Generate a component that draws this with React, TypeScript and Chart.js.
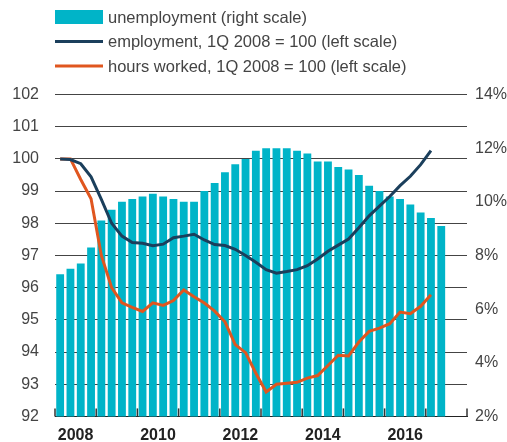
import React, { useEffect, useRef } from "react";
import { Chart, registerables } from "chart.js";

Chart.register(...registerables);

const years = [2008, 2009, 2010, 2011, 2012, 2013, 2014, 2015, 2016, 2017];
const quarters: string[] = years.flatMap((y) => [1, 2, 3, 4].map((q) => `${y}Q${q}`));

// unemployment rate, % (right scale), 2008Q1 - 2017Q2
const unemployment = [
  7.3, 7.5, 7.7, 8.3, 9.3, 9.7, 10.0, 10.1, 10.2, 10.3, 10.2, 10.1, 10.0, 10.0, 10.4, 10.7,
  11.1, 11.4, 11.6, 11.9, 12.0, 12.0, 12.0, 11.9, 11.8, 11.5, 11.5, 11.3, 11.2, 11.0, 10.6, 10.4,
  10.2, 10.1, 9.9, 9.6, 9.4, 9.1,
];

// employment, 1Q 2008 = 100 (left scale), 2008Q1 - 2017Q1
const employment = [
  100.0, 99.98, 99.85, 99.44, 98.74, 98.0, 97.6, 97.4, 97.38, 97.3, 97.35, 97.55, 97.6, 97.66,
  97.48, 97.34, 97.31, 97.19, 97.0, 96.79, 96.56, 96.45, 96.5, 96.56, 96.68, 96.89, 97.13, 97.32,
  97.51, 97.86, 98.23, 98.53, 98.83, 99.17, 99.46, 99.82, 100.26,
];

// hours worked, 1Q 2008 = 100 (left scale), 2008Q1 - 2017Q1
const hoursWorked = [
  100.0, 100.0, 99.36, 98.76, 97.0, 96.0, 95.53, 95.39, 95.26, 95.53, 95.45, 95.6, 95.93, 95.72,
  95.52, 95.27, 94.94, 94.23, 93.98, 93.34, 92.76, 93.0, 93.03, 93.06, 93.19, 93.27, 93.58, 93.9,
  93.88, 94.31, 94.64, 94.74, 94.88, 95.24, 95.19, 95.42, 95.78,
];

const legendLabels = [
  "unemployment (right scale)",
  "employment, 1Q 2008 = 100 (left scale)",
  "hours worked, 1Q 2008 = 100 (left scale)",
];

const TEAL = "#00b4c8";
const NAVY = "#1b3f5c";
const ORANGE = "#e0561f";
const FONT = "'Liberation Sans', Arial, Helvetica, sans-serif";

const legendPlugin = {
  id: "customLegend",
  afterDraw(chart: any) {
    const ctx = chart.ctx as CanvasRenderingContext2D;
    const left = chart.chartArea.left;
    const rowY = [17, 41.5, 66];
    ctx.save();
    ctx.fillStyle = TEAL;
    ctx.fillRect(left, rowY[0] - 7, 48, 14);
    ctx.lineWidth = 3;
    ctx.strokeStyle = NAVY;
    ctx.beginPath();
    ctx.moveTo(left, rowY[1]);
    ctx.lineTo(left + 48, rowY[1]);
    ctx.stroke();
    ctx.strokeStyle = ORANGE;
    ctx.beginPath();
    ctx.moveTo(left, rowY[2]);
    ctx.lineTo(left + 48, rowY[2]);
    ctx.stroke();
    ctx.fillStyle = "#444";
    ctx.font = `16.5px ${FONT}`;
    ctx.textBaseline = "middle";
    ctx.textAlign = "left";
    legendLabels.forEach((t, i) => ctx.fillText(t, left + 53, rowY[i] + 1));
    ctx.restore();
  },
};

const yearTickPlugin = {
  id: "yearTicks",
  afterDatasetsDraw(chart: any) {
    const ctx = chart.ctx as CanvasRenderingContext2D;
    const xs = chart.scales.x;
    const bottom = chart.chartArea.bottom;
    ctx.save();
    ctx.strokeStyle = "#333";
    ctx.lineWidth = 1.5;
    for (let k = 0; k <= quarters.length; k += 4) {
      const x = xs.getPixelForValue(k - 0.5);
      ctx.beginPath();
      ctx.moveTo(x, bottom);
      ctx.lineTo(x, bottom - 8);
      ctx.stroke();
    }
    ctx.restore();
  },
};

export default function App() {
  const canvasRef = useRef<HTMLCanvasElement | null>(null);

  useEffect(() => {
    if (!canvasRef.current) return;
    const chart = new Chart(canvasRef.current, {
      type: "bar",
      data: {
        labels: quarters,
        datasets: [
          {
            type: "line",
            label: legendLabels[1],
            data: employment,
            yAxisID: "y",
            borderColor: NAVY,
            borderWidth: 3,
            pointRadius: 0,
            tension: 0,
            order: 0,
          } as any,
          {
            type: "line",
            label: legendLabels[2],
            data: hoursWorked,
            yAxisID: "y",
            borderColor: ORANGE,
            borderWidth: 3,
            pointRadius: 0,
            tension: 0,
            order: 1,
          } as any,
          {
            type: "bar",
            label: legendLabels[0],
            data: unemployment,
            yAxisID: "y1",
            backgroundColor: TEAL,
            barPercentage: 0.76,
            categoryPercentage: 1,
            order: 2,
          } as any,
        ],
      },
      options: {
        responsive: true,
        maintainAspectRatio: false,
        animation: false,
        layout: { padding: { top: 94.5, left: 0, right: 0, bottom: 0 } },
        plugins: {
          legend: { display: false },
          tooltip: { enabled: false },
        },
        scales: {
          x: {
            offset: true,
            grid: { display: false },
            border: { display: true, color: "#222", width: 1 },
            ticks: {
              autoSkip: false,
              maxRotation: 0,
              minRotation: 0,
              padding: 2,
              labelOffset: 5.15,
              color: "#222",
              font: { family: FONT, size: 16, weight: "bold" },
              callback: (_v: any, i: number) => {
                const y = years[Math.floor(i / 4)];
                return i % 4 === 1 && y % 2 === 0 ? String(y) : "";
              },
            },
            afterFit: (s: any) => {
              s.height = 24;
            },
          },
          y: {
            position: "left",
            min: 92,
            max: 102,
            grid: { color: "#444", lineWidth: 1, drawTicks: false },
            border: { display: false },
            ticks: {
              stepSize: 1,
              padding: 16,
              color: "#444",
              font: { family: FONT, size: 16 },
            },
            afterFit: (s: any) => {
              s.width = 55;
            },
          },
          y1: {
            position: "right",
            min: 2,
            max: 14,
            grid: { display: false, drawTicks: false },
            border: { display: false },
            ticks: {
              stepSize: 2,
              padding: 8,
              color: "#444",
              font: { family: FONT, size: 16 },
              callback: (v: any) => `${v}%`,
            },
            afterFit: (s: any) => {
              s.width = 40;
            },
          },
        },
      },
      plugins: [legendPlugin, yearTickPlugin],
    });
    return () => chart.destroy();
  }, []);

  return (
    <div style={{ position: "fixed", left: 0, top: 0, width: 507, height: 442, background: "#fff" }}>
      <canvas ref={canvasRef} />
    </div>
  );
}
